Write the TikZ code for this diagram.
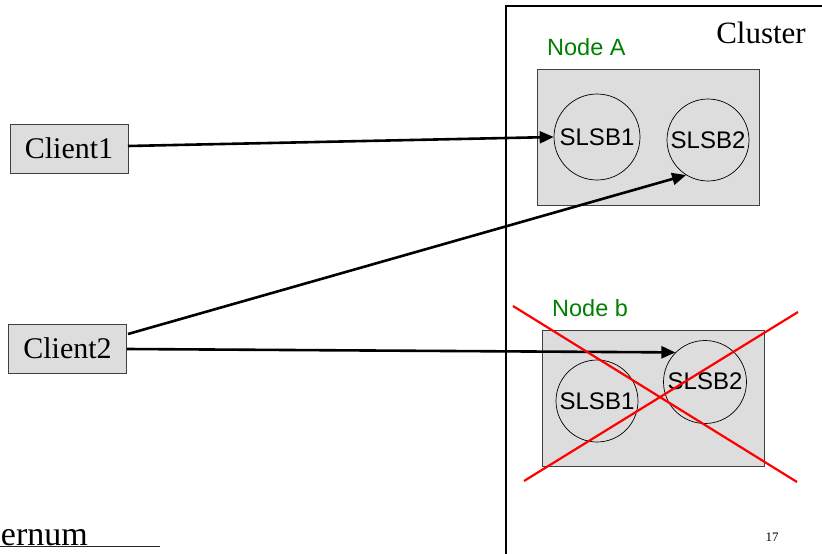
\documentclass[tikz,border=0pt]{standalone}
\usepackage{fontspec}
\setmainfont{Liberation Serif}
\newfontfamily\sansf{Liberation Sans}
\usetikzlibrary{arrows.meta}
\definecolor{boxgray}{HTML}{DDDDDD}
\definecolor{nodegreen}{HTML}{008000}
\begin{document}
\begin{tikzpicture}[x=1pt,y=-1pt,
  client/.style={draw=black!75,fill=boxgray,line width=0.8pt,minimum width=118pt,minimum height=49pt,inner sep=0pt,font=\fontsize{30}{32}\selectfont},
  hostbox/.style={draw=black!75,fill=boxgray,line width=0.8pt},
  bean/.style={circle,draw=black,line width=0.7pt,inner sep=0pt,font=\sansf\fontsize{24}{26}\selectfont},
  greenlbl/.style={text=nodegreen,font=\sansf\fontsize{23.5}{25}\selectfont,anchor=west,inner sep=0pt},
  conn/.style={line width=2.6pt,-{Triangle[length=14pt,width=12pt]}},
  cross/.style={draw=red,line width=2.2pt}]
\useasboundingbox (0,0) rectangle (822,554);
% cluster frame
\draw[line width=2.8pt] (506,556) -- (506,6) -- (824,6);
\node[anchor=east,inner sep=0pt,font=\fontsize{31}{33}\selectfont] (cl) at (806,33) {Cluster};
% Node A
\node[greenlbl] (na) at (547,47) {Node A};
\draw[hostbox] (537,69) rectangle (759,205);
\node[bean,minimum size=86pt] (a1) at (597,137) {SLSB1};
\node[bean,minimum size=82pt] (a2) at (708,140) {SLSB2};
% Node b
\node[greenlbl] (nb) at (552,308) {Node b};
\draw[hostbox] (542,330) rectangle (764,466);
\node[bean,minimum size=82pt] (b1) at (597,401) {SLSB1};
\node[bean,minimum size=83pt] (b2) at (705,382) {};
\node[inner sep=0pt,font=\sansf\fontsize{24}{26}\selectfont] (b2t) at (705,381) {SLSB2};
% clients
\node[client] (c1) at (69,148.5) {Client1};
\node[client] (c2) at (67.5,348.5) {Client2};
% connectors
\coordinate (c1e) at (128,146);
\coordinate (c2a) at (128,334);
\coordinate (c2b) at (127,349);
\draw[conn] (c1e) -- (a1.west);
\draw[conn] (c2a) -- (a2.238);
\draw[conn] (c2b) -- (b2.north west);
% red X
\coordinate (x1) at (513,306);
\coordinate (x2) at (797,482);
\coordinate (x3) at (524,481);
\coordinate (x4) at (798,312);
\draw[cross] (x1) -- (x2);
\draw[cross] (x3) -- (x4);
% footer
\node[anchor=base east,inner sep=0pt,font=\fontsize{34}{36}\selectfont] (ft) at (88,545) {ernum};
\draw[line width=1.2pt,black!85] (0,546.5) -- (160,546.5);
\node[inner sep=0pt,font=\fontsize{13}{15}\selectfont] (pg) at (772,537) {17};
\end{tikzpicture}
\end{document}
